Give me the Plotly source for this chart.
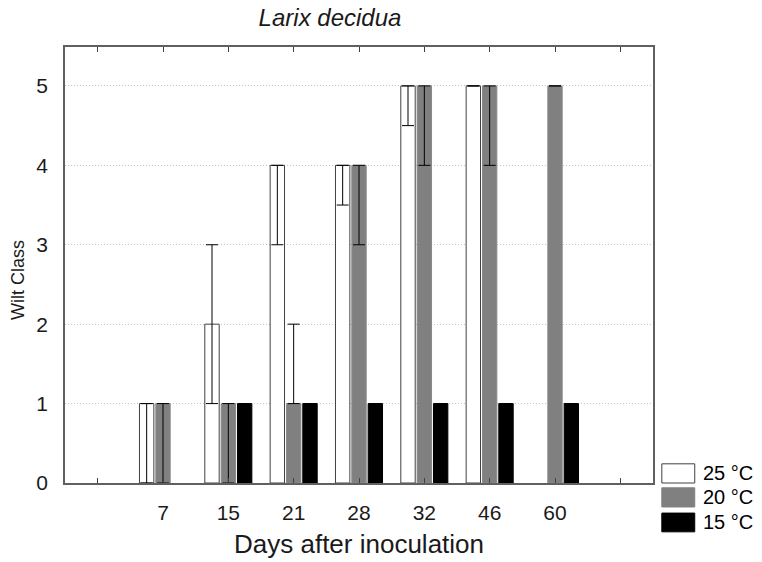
import plotly.graph_objects as go

# ---- data ----
days = ["7", "15", "21", "28", "32", "46", "60"]
series_names = ["25 °C", "20 °C", "15 °C"]

val_25 = [1, 2, 4, 4, 5, 5, None]
lo_25 = [0, 1, 3, 3.5, 4.5, 5, None]
hi_25 = [1, 3, 4, 4, 5, 5, None]

val_20 = [1, 1, 1, 4, 5, 5, 5]
lo_20 = [0, 0, 1, 3, 4, 4, 5]
hi_20 = [1, 1, 2, 4, 5, 5, 5]

val_15 = [None, 1, 1, 1, 1, 1, 1]
lo_15 = [None, 1, 1, 1, 1, 1, 1]
hi_15 = [None, 1, 1, 1, 1, 1, 1]

y_ticks = [0, 1, 2, 3, 4, 5]

# ---- styles ----
fills = ["#ffffff", "#808080", "#000000"]
edges = ["#404040", "#8a8a8a", "#000000"]
FONT = "Liberation Sans, Arial, sans-serif"
W, H = 762, 562
ML, MR, MT, MB = 65, 109, 47, 79
PW, PH = W - ML - MR, H - MT - MB

positions = list(range(1, len(days) + 1))
tick_positions = list(range(0, len(days) + 2))
tick_text = [""] + days + [""]


def err(vals, lo, hi):
    plus = [None if v is None else h - v for v, h in zip(vals, hi)]
    minus = [None if v is None else v - l for v, l in zip(vals, lo)]
    return plus, minus


fig = go.Figure()
for name, vals, lo, hi, fc, ec in [
    (series_names[0], val_25, lo_25, hi_25, fills[0], edges[0]),
    (series_names[1], val_20, lo_20, hi_20, fills[1], edges[1]),
    (series_names[2], val_15, lo_15, hi_15, fills[2], edges[2]),
]:
    plus, minus = err(vals, lo, hi)
    fig.add_trace(go.Bar(
        x=positions, y=vals, name=name,
        marker=dict(color=fc, line=dict(color=ec, width=1)),
        error_y=dict(type="data", symmetric=False, array=plus, arrayminus=minus,
                     color="#000000", thickness=1, width=6),
        showlegend=False,
    ))

# custom legend (wide swatches like the original)
legend_y = [(0.0, 0.044), (-0.055, -0.011), (-0.112, -0.069)]
for (y0, y1), name, fc, ec in zip(legend_y, series_names, fills, edges):
    fig.add_shape(type="rect", xref="paper", yref="paper",
                  x0=1.015, x1=1.071, y0=y0, y1=y1,
                  fillcolor=fc, line=dict(color=ec if fc != "#808080" else fc, width=1))
    fig.add_annotation(xref="paper", yref="paper", x=1.082, y=(y0 + y1) / 2,
                       text=name, showarrow=False, xanchor="left", yanchor="middle",
                       font=dict(family=FONT, size=20, color="#000000"))

# y-axis title
fig.add_annotation(xref="paper", yref="paper", x=(18 - ML) / PW, y=(H - MB - 280) / PH,
                   text="Wilt Class", textangle=-90, showarrow=False,
                   xanchor="center", yanchor="middle",
                   font=dict(family=FONT, size=18, color="#1a1a1a"))

fig.update_layout(
    width=W, height=H,
    margin=dict(l=ML, r=MR, t=MT, b=MB, autoexpand=False),
    paper_bgcolor="#ffffff", plot_bgcolor="#ffffff",
    barmode="group", bargap=0.25, bargroupgap=0.12,
    font=dict(family=FONT, size=20, color="#000000"),
    title=dict(text="<i>Larix decidua</i>", x=330 / W, xref="container", xanchor="center",
               y=1 - 18 / H, yref="container", yanchor="middle",
               font=dict(family=FONT, size=24, color="#1a1a1a")),
)
fig.update_xaxes(
    automargin=False,
    range=[-0.5, len(days) + 1.5],
    tickmode="array", tickvals=tick_positions, ticktext=tick_text,
    ticks="inside", ticklen=5, tickcolor="#404040", tickwidth=1,
    showline=True, linecolor="#606060", linewidth=1.5, mirror="ticks",
    showgrid=False, zeroline=False,
    ticklabelstandoff=10,
    tickfont=dict(family=FONT, size=21, color="#1a1a1a"),
    title=dict(text="Days after inoculation", standoff=12,
               font=dict(family=FONT, size=26, color="#1a1a1a")),
)
fig.update_yaxes(
    automargin=False,
    range=[0, 5.49],
    tickmode="array", tickvals=y_ticks,
    showline=True, linecolor="#606060", linewidth=1.5, mirror=True,
    showgrid=True, gridcolor="#c4c4c4", griddash="1px,2px", gridwidth=1,
    zeroline=False, ticks="",
    ticklabelstandoff=11,
    tickfont=dict(family=FONT, size=21, color="#1a1a1a"),
)

fig.write_html("out.html", config={"displayModeBar": False},
               post_script="document.body.style.margin='0';")
